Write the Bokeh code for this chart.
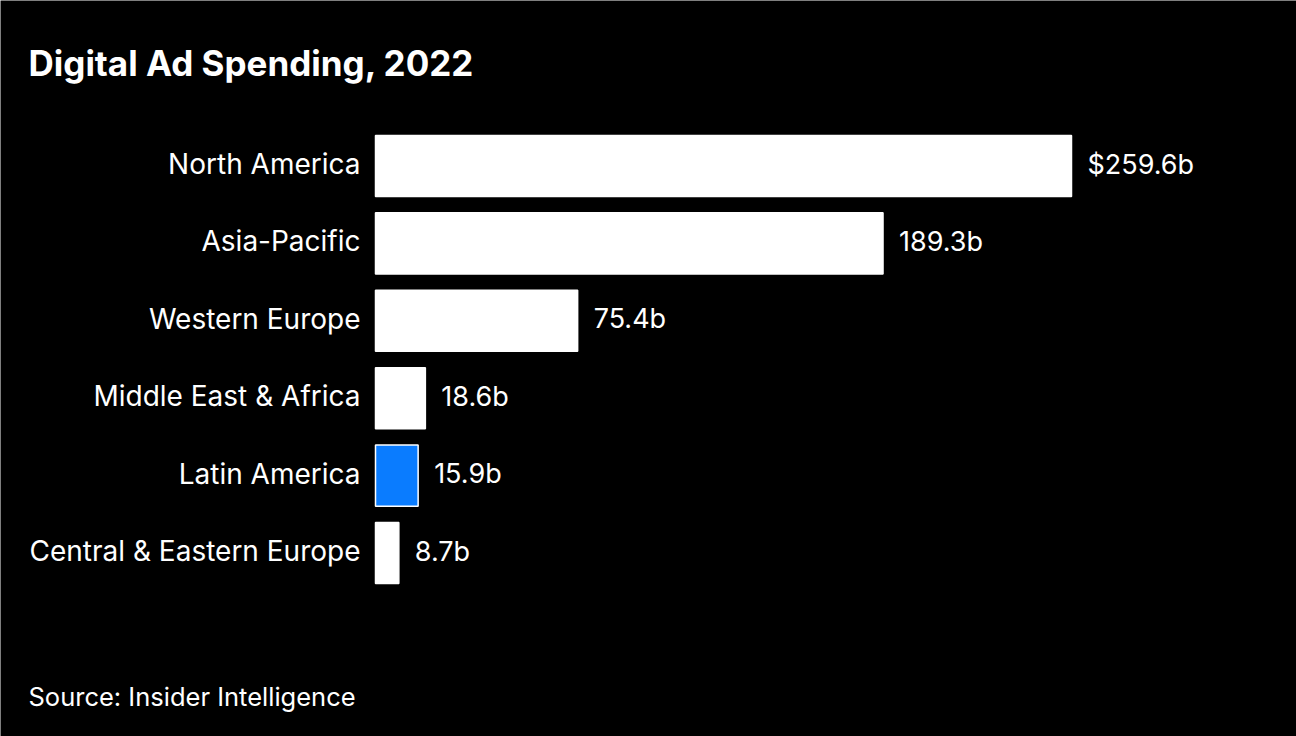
from bokeh.plotting import figure
from bokeh.models import ColumnDataSource, Range1d, Label
from bokeh.core.properties import value
from bokeh.embed import file_html
from bokeh.resources import INLINE

regions = ["North America", "Asia-Pacific", "Western Europe",
           "Middle East & Africa", "Latin America", "Central & Eastern Europe"]
spending = [259.6, 189.3, 75.4, 18.6, 15.9, 8.7]
value_labels = ["$259.6b", "189.3b", "75.4b", "18.6b", "15.9b", "8.7b"]
highlight = "Latin America"

W, H = 1296, 736
FONT = "Inter"
px_per_unit = 696 / 259.6
x_start = -375 / px_per_unit
x_end = x_start + W / px_per_unit
row = 77.4
first_center = 165.5
y_top = -first_center / row
y_bottom = (H - first_center) / row

idx = list(range(len(regions)))
fills = ["#0A7CFF" if r == highlight else "#FFFFFF" for r in regions]
src = ColumnDataSource(dict(y=idx, v=spending, region=regions,
                            lab=value_labels, fill=fills))

p = figure(width=W, height=H, output_backend="svg", toolbar_location=None,
           x_range=Range1d(x_start, x_end), y_range=Range1d(y_bottom, y_top),
           min_border=0, background_fill_color="black", border_fill_color="black",
           outline_line_color=None)
p.axis.visible = False
p.grid.visible = False

p.hbar(y="y", left=0, right="v", height=0.79, fill_color="fill",
       line_color="white", line_width=1.5, source=src)

p.text(x=0, y="y", text="region", source=src, x_offset=-15, y_offset=-2,
       text_align="right", text_baseline="middle", text_color="white",
       text_font=value(FONT), text_font_size="28px")
p.text(x="v", y="y", text="lab", source=src, x_offset=16, y_offset=-2,
       text_align="left", text_baseline="middle", text_color="white",
       text_font=value(FONT), text_font_size="27px")

p.add_layout(Label(x=28, y=H - 62, x_units="screen", y_units="screen",
                   text="Digital Ad Spending, 2022", text_color="white",
                   text_font=FONT, text_font_size="35px", text_font_style="bold",
                   text_baseline="middle"))
p.add_layout(Label(x=28, y=H - 696, x_units="screen", y_units="screen",
                   text="Source: Insider Intelligence", text_color="white",
                   text_font=FONT, text_font_size="25.5px",
                   text_baseline="middle"))

open("out.html", "w").write(file_html(p, INLINE))
